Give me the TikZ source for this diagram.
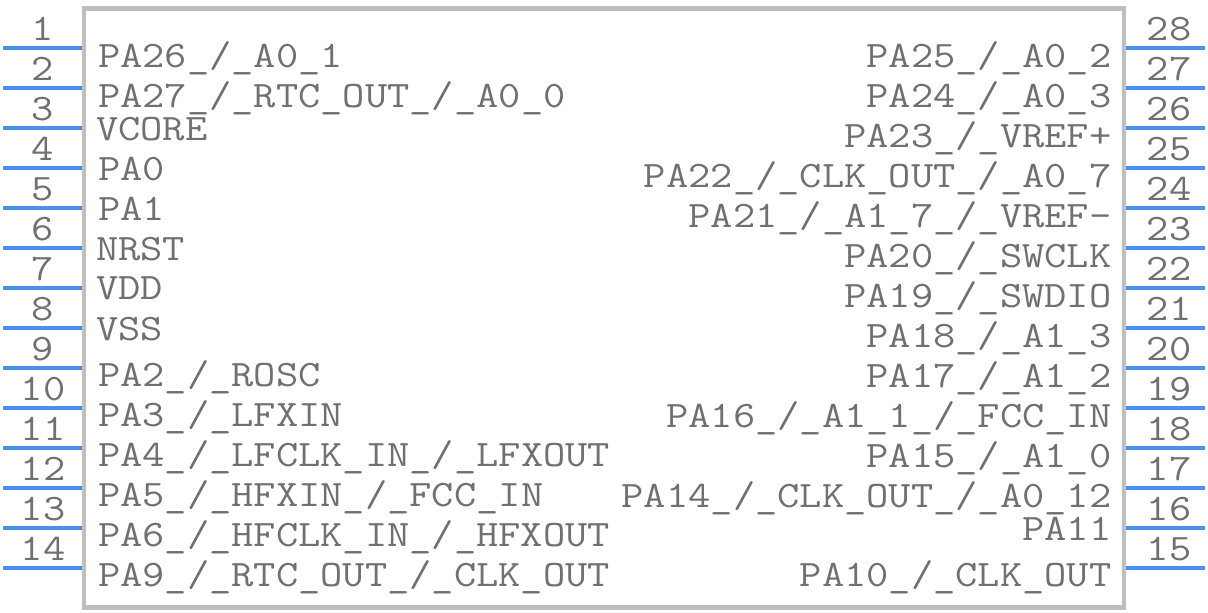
\documentclass[tikz,border=0pt]{standalone}
\usepackage{fontspec}
\newfontfamily\pinfont[FakeStretch=1.158]{Latin Modern Mono}
\definecolor{pinblue}{HTML}{4A90F0}
\definecolor{bodygrey}{HTML}{BFBFBF}
\definecolor{textgrey}{HTML}{707070}
\tikzset{
  chip/.style={draw=bodygrey,line width=3.2pt},
  pinline/.style={draw=pinblue,line width=3pt},
  lab/.style={inner sep=0pt,outer sep=0pt,text=textgrey,font=\pinfont\fontsize{28pt}{30pt}\selectfont},
  lleft/.style={lab,anchor=base west},
  lright/.style={lab,anchor=base east},
  num/.style={lab,anchor=base},
}
\begin{document}
\begin{tikzpicture}[x=0.75pt,y=-0.75pt]
\useasboundingbox (0,0) rectangle (1208,612);
\fill[white] (0,0) rectangle (1208,612);
\draw[chip] (84,8.5) rectangle (1124,607.5);
% left pins
\foreach \i in {1,...,14}{
  \pgfmathsetmacro{\py}{8+40*\i}
  \coordinate (la\i) at (3,\py);
  \coordinate (lb\i) at (82,\py);
  \draw[pinline] (la\i) -- (lb\i);
  \pgfmathsetmacro{\ny}{\py-8}
  \node[num] (ln\i) at (43,\ny) {\i};
}
% right pins
\foreach \i [evaluate=\i as \pn using int(29-\i)] in {1,...,14}{
  \pgfmathsetmacro{\py}{8+40*\i}
  \coordinate (ra\i) at (1126,\py);
  \coordinate (rb\i) at (1205,\py);
  \draw[pinline] (ra\i) -- (rb\i);
  \pgfmathsetmacro{\ny}{\py-8}
  \node[num] (rn\i) at (1169,\ny) {\pn};
}
% left labels
\node[lleft] (l1) at (98,67) {PA26\_/\_A0\_1};
\node[lleft] (l2) at (98,107) {PA27\_/\_RTC\_OUT\_/\_A0\_0};
\node[lleft] (l3) at (96,140) {VCORE};
\node[lleft] (l4) at (98,180) {PA0};
\node[lleft] (l5) at (98,220) {PA1};
\node[lleft] (l6) at (96,260) {NRST};
\node[lleft] (l7) at (96,299) {VDD};
\node[lleft] (l8) at (96,340) {VSS};
\node[lleft] (l9) at (98,386) {PA2\_/\_ROSC};
\node[lleft] (l10) at (98,426) {PA3\_/\_LFXIN};
\node[lleft] (l11) at (98,466) {PA4\_/\_LFCLK\_IN\_/\_LFXOUT};
\node[lleft] (l12) at (98,506) {PA5\_/\_HFXIN\_/\_FCC\_IN};
\node[lleft] (l13) at (98,546) {PA6\_/\_HFCLK\_IN\_/\_HFXOUT};
\node[lleft] (l14) at (98,586) {PA9\_/\_RTC\_OUT\_/\_CLK\_OUT};
% right labels
\node[lright] (r1) at (1111.5,67) {PA25\_/\_A0\_2};
\node[lright] (r2) at (1111.5,107) {PA24\_/\_A0\_3};
\node[lright] (r3) at (1111.5,147) {PA23\_/\_VREF+};
\node[lright] (r4) at (1111.5,187) {PA22\_/\_CLK\_OUT\_/\_A0\_7};
\node[lright] (r5) at (1111.5,227) {PA21\_/\_A1\_7\_/\_VREF-};
\node[lright] (r6) at (1111.5,267) {PA20\_/\_SWCLK};
\node[lright] (r7) at (1111.5,307) {PA19\_/\_SWDIO};
\node[lright] (r8) at (1111.5,347) {PA18\_/\_A1\_3};
\node[lright] (r9) at (1111.5,387) {PA17\_/\_A1\_2};
\node[lright] (r10) at (1111.5,427) {PA16\_/\_A1\_1\_/\_FCC\_IN};
\node[lright] (r11) at (1111.5,467) {PA15\_/\_A1\_0};
\node[lright] (r12) at (1111.5,507) {PA14\_/\_CLK\_OUT\_/\_A0\_12};
\node[lright] (r13) at (1111.5,540) {PA11};
\node[lright] (r14) at (1111.5,586) {PA10\_/\_CLK\_OUT};
\end{tikzpicture}
\end{document}
